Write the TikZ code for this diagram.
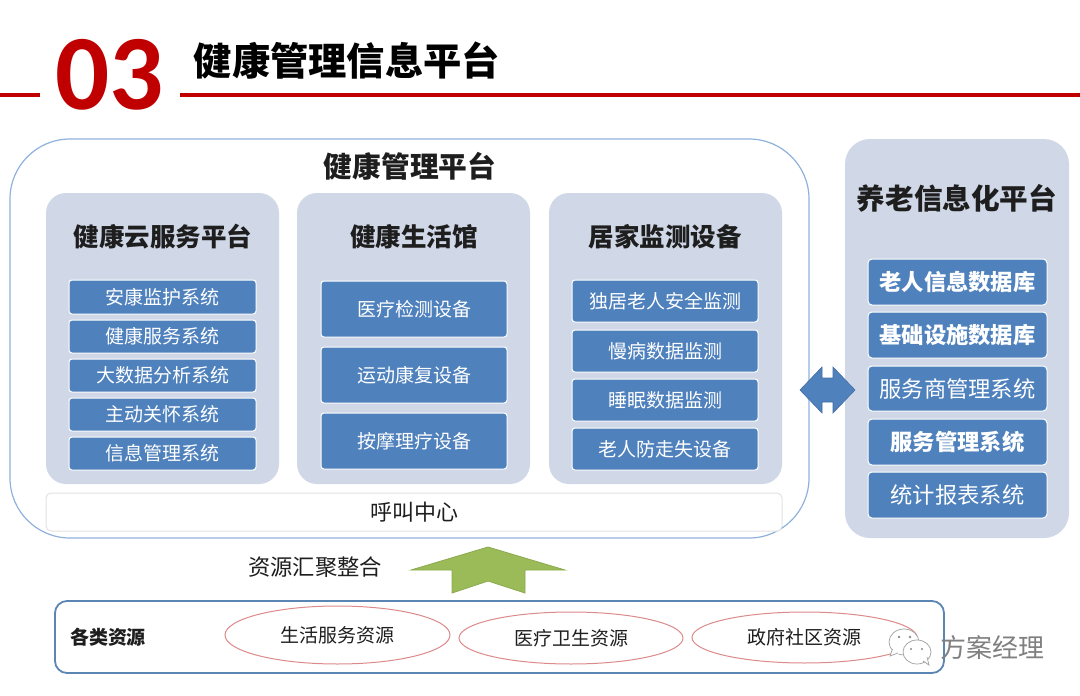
\documentclass[tikz,border=0pt]{standalone}
\usepackage{fontspec}
\setmainfont{Noto Sans CJK SC}
\newfontfamily\numfont{Carlito}
\usetikzlibrary{shapes.geometric}
\definecolor{panelc}{HTML}{D0D8E8}
\definecolor{boxc}{HTML}{4F81BD}
\definecolor{outerc}{HTML}{8FB2DC}
\definecolor{redc}{HTML}{C00000}
\definecolor{greenc}{HTML}{9BBB59}
\definecolor{greenl}{HTML}{8CAA50}
\definecolor{resc}{HTML}{5B86B3}
\definecolor{ellc}{HTML}{DC8A8A}
\definecolor{txt}{HTML}{1E1E1E}
\newcommand{\fs}[1]{\fontsize{#1}{#1}\selectfont}
\newcommand{\bx}[7]{%
  \pgfmathsetmacro{\cxx}{(#3+#5)/2}\pgfmathsetmacro{\cyy}{(#4+#6)/2}%
  \pgfmathsetmacro{\www}{#5-#3}\pgfmathsetmacro{\hhh}{#6-#4}%
  \node[#2,minimum width=\www pt,minimum height=\hhh pt] (#1) at (\cxx,\cyy) {#7};}
\tikzset{
  basebox/.style={inner sep=0pt,outer sep=0pt,align=center},
  panelbox/.style={basebox,fill=panelc,rounded corners=20pt},
  smallbox/.style={basebox,fill=boxc,draw=white,line width=1pt,rounded corners=3pt,text=white,font=\fs{19}},
  rightbox/.style={basebox,fill=boxc,draw=white,line width=1pt,rounded corners=4pt,text=white,font=\fs{22.3}},
  rightboxb/.style={rightbox,font=\fs{22.3}\bfseries},
  head/.style={inner sep=0pt,text=txt,font=\fs{25.5}\bfseries},
  resell/.style={ellipse,draw=ellc,line width=1pt,inner sep=0pt,outer sep=0pt,text=txt,font=\fs{19}},
  plain/.style={inner sep=0pt,text=txt},
  wechat/.style={draw=black!38,fill=white,line width=.7pt},
}
\begin{document}
\begin{tikzpicture}[x=1pt,y=-1pt]
\useasboundingbox (0,0) rectangle (1080,696);
\fill[white] (0,0) rectangle (1080,696);
% header
\node[inner sep=0pt,text=redc] (num) at (109.5,75) {\numfont\fontsize{107}{107}\selectfont\bfseries 03};
\coordinate (la) at (0,95); \coordinate (lb) at (40,95);
\coordinate (lc) at (180,95); \coordinate (ld) at (1080,95);
\draw[redc,line width=4pt] (la) -- (lb);
\draw[redc,line width=4pt] (lc) -- (ld);
\node[plain,anchor=west,text=black,font=\fs{38.3}\bfseries] (title) at (193.5,61) {健康管理信息平台};
% outer
\bx{outer}{basebox,draw=outerc,line width=1.2pt,fill=white,rounded corners=60pt}{10}{139}{809}{538}{}
\node[plain,font=\fs{28.7}\bfseries] (outert) at (410,166) {健康管理平台};
% panels
\bx{p1}{panelbox}{46}{193}{279}{484}{}
\bx{p2}{panelbox}{297}{193}{530}{484}{}
\bx{p3}{panelbox}{549}{193}{782}{484}{}
\node[head] (h1) at (163,237) {健康云服务平台};
\node[head] (h2) at (414,237) {健康生活馆};
\node[head] (h3) at (665,237) {居家监测设备};
% left column
\bx{a1}{smallbox}{69}{280}{256}{314}{安康监护系统}
\bx{a2}{smallbox}{69}{320}{256}{353}{健康服务系统}
\bx{a3}{smallbox}{69}{359}{256}{392}{大数据分析系统}
\bx{a4}{smallbox}{69}{398}{256}{431}{主动关怀系统}
\bx{a5}{smallbox}{69}{437}{256}{470}{信息管理系统}
% middle column
\bx{b1}{smallbox}{321}{281}{507}{337}{医疗检测设备}
\bx{b2}{smallbox}{321}{347}{507}{403}{运动康复设备}
\bx{b3}{smallbox}{321}{413}{507}{469}{按摩理疗设备}
% right column
\bx{c1}{smallbox}{572}{280}{758}{322}{独居老人安全监测}
\bx{c2}{smallbox}{572}{330}{758}{372}{慢病数据监测}
\bx{c3}{smallbox}{572}{379}{758}{421}{睡眠数据监测}
\bx{c4}{smallbox}{572}{428}{758}{470}{老人防走失设备}
% call centre
\bx{call}{basebox,fill=white,draw=black!11,line width=1pt,rounded corners=5pt,text=txt,font=\fs{22}}{46}{493}{782}{531}{呼叫中心}
% right panel
\bx{rp}{basebox,fill=panelc,rounded corners=25pt}{845}{139}{1069}{538}{}
\node[plain,font=\fs{28.6}\bfseries] (rpt) at (957,198) {养老信息化平台};
\bx{r1}{rightboxb}{868}{259}{1047}{305}{老人信息数据库}
\bx{r2}{rightboxb}{868}{312}{1047}{358}{基础设施数据库}
\bx{r3}{rightbox}{868}{366}{1047}{411}{服务商管理系统}
\bx{r4}{rightboxb}{868}{419}{1047}{465}{服务管理系统}
\bx{r5}{rightbox}{868}{472}{1047}{518}{统计报表系统}
% double arrow
\fill[boxc,draw=boxc!85!black,line width=.6pt] (800,390) -- (822,367) -- (822,378) -- (833,378) -- (833,367) -- (855,390) -- (833,413) -- (833,402) -- (822,402) -- (822,413) -- cycle;
% up arrow
\node[plain,font=\fs{22.3}] (merge) at (315,567.5) {资源汇聚整合};
\fill[greenc,draw=greenl,line width=.8pt] (488,547) -- (565,570) -- (525,570) -- (525,593) -- (488,581) -- (452,593) -- (452,570) -- (411,570) -- cycle;
% resources
\bx{res}{basebox,fill=white,draw=resc,line width=1.8pt,rounded corners=12pt}{55}{601}{944}{673}{}
\node[plain,font=\fs{19}\bfseries] (rest) at (108,637) {各类资源};
\bx{e1}{resell}{225}{606}{450}{664}{\raisebox{1pt}{生活服务资源}}
\bx{e2}{resell}{459}{612}{683}{664}{医疗卫生资源}
\bx{e3}{resell}{692}{612}{917}{663}{政府社区资源}
% watermark
\draw[wechat] (904,642) ellipse (15 and 13);
\fill[white] (892,650) -- (893,658) -- (902,652) -- cycle;
\draw[wechat] (892.5,649) -- (890,656) -- (898,653);
\draw[wechat] (917,652) ellipse (14 and 12);
\draw[wechat,fill=white] (923,661) -- (929,665) -- (927,657);
\fill[black!45] (899,637) circle (1.3) (910,637) circle (1.3) (911,649) circle (1.1) (922,649) circle (1.1);
\node[plain,text=black!50,font=\fs{26}] (mark) at (992,648) {方案经理};
\end{tikzpicture}
\end{document}
